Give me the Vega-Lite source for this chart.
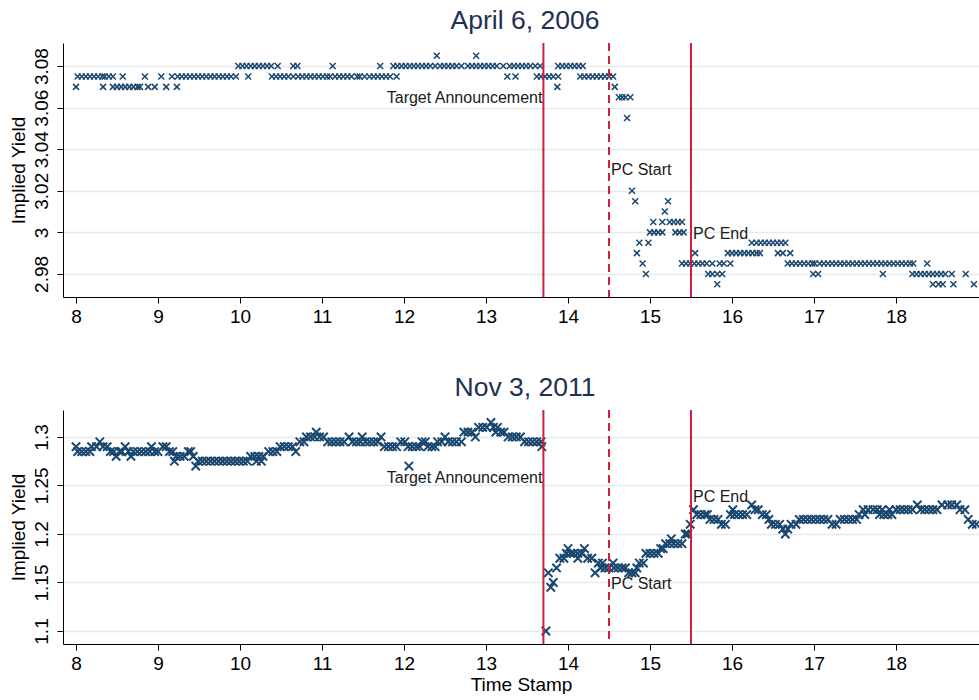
{
"$schema": "https://vega.github.io/schema/vega-lite/v6.json",
"padding": {"left": 9, "top": 7, "right": 0, "bottom": 0},
"spacing": 113,
"bounds": "flush",
"config": {
 "font": "Liberation Sans",
 "view": {"stroke": null},
 "axis": {"labelFont": "Liberation Sans", "labelFontSize": 19, "labelColor": "#000", "titleFont": "Liberation Sans", "titleFontSize": 19, "titleFontWeight": "normal", "titleColor": "#000", "domainColor": "#000", "tickColor": "#000", "tickSize": 6, "domainWidth": 1, "tickWidth": 1},
 "title": {"font": "Liberation Sans", "fontSize": 26.5, "fontWeight": "normal", "color": "#1e3056", "anchor": "middle", "frame": "group", "offset": 8, "baseline": "alphabetic", "dx": 4}
},
"datasets": {
 "rules": [{"t":13.7,"d":"s"},{"t":14.5,"d":"d"},{"t":15.5,"d":"s"}],
 "la": [{"t":13.7,"y":3.0622,"label":"Target Announcement","h":"r"},{"t":14.5,"y":3.0274,"label":"PC Start","h":"l"},{"t":15.5,"y":2.9968,"label":"PC End","h":"l"}],
 "lb": [{"t":13.7,"y":1.2526,"label":"Target Announcement","h":"r"},{"t":14.5,"y":1.1433,"label":"PC Start","h":"l"},{"t":15.5,"y":1.233,"label":"PC End","h":"l"}],
 "a": [
  {"t":8.02,"y":3.075},{"t":8.07,"y":3.075},{"t":8.12,"y":3.075},{"t":8.17,"y":3.075},{"t":8.22,"y":3.075},{"t":8.27,"y":3.075},{"t":8.32,"y":3.075},{"t":8.35,"y":3.075},{"t":8.40,"y":3.075},{"t":8.45,"y":3.075},{"t":8.57,"y":3.075},{"t":8.84,"y":3.075},{"t":9.04,"y":3.075},{"t":9.17,"y":3.075},
  {"t":9.24,"y":3.075},{"t":9.29,"y":3.075},{"t":9.34,"y":3.075},{"t":9.39,"y":3.075},{"t":9.44,"y":3.075},{"t":9.49,"y":3.075},{"t":9.54,"y":3.075},{"t":9.59,"y":3.075},{"t":9.64,"y":3.075},{"t":9.69,"y":3.075},{"t":9.74,"y":3.075},{"t":9.79,"y":3.075},{"t":9.84,"y":3.075},{"t":9.89,"y":3.075},{"t":9.95,"y":3.075},{"t":10.10,"y":3.075},
  {"t":10.39,"y":3.075},{"t":10.44,"y":3.075},{"t":10.49,"y":3.075},{"t":10.54,"y":3.075},{"t":10.59,"y":3.075},{"t":10.65,"y":3.075},{"t":10.71,"y":3.075},{"t":10.76,"y":3.075},{"t":10.81,"y":3.075},{"t":10.86,"y":3.075},{"t":10.91,"y":3.075},{"t":10.96,"y":3.075},{"t":11.01,"y":3.075},{"t":11.06,"y":3.075},{"t":11.10,"y":3.075},{"t":11.16,"y":3.075},{"t":11.21,"y":3.075},{"t":11.26,"y":3.075},{"t":11.31,"y":3.075},{"t":11.36,"y":3.075},{"t":11.43,"y":3.075},{"t":11.46,"y":3.075},{"t":11.52,"y":3.075},{"t":11.58,"y":3.075},{"t":11.63,"y":3.075},{"t":11.68,"y":3.075},{"t":11.73,"y":3.075},{"t":11.78,"y":3.075},{"t":11.83,"y":3.075},{"t":11.91,"y":3.075},
  {"t":13.26,"y":3.075},{"t":13.36,"y":3.075},{"t":13.62,"y":3.075},{"t":13.67,"y":3.075},{"t":13.72,"y":3.075},{"t":13.77,"y":3.075},{"t":13.82,"y":3.075},{"t":13.88,"y":3.075},{"t":14.15,"y":3.075},{"t":14.20,"y":3.075},{"t":14.25,"y":3.075},{"t":14.30,"y":3.075},{"t":14.35,"y":3.075},{"t":14.40,"y":3.075},{"t":14.45,"y":3.075},{"t":14.50,"y":3.075},{"t":14.55,"y":3.075},
  {"t":8.0,"y":3.07},{"t":8.33,"y":3.07},{"t":8.45,"y":3.07},{"t":8.50,"y":3.07},{"t":8.55,"y":3.07},{"t":8.60,"y":3.07},{"t":8.65,"y":3.07},{"t":8.70,"y":3.07},{"t":8.75,"y":3.07},{"t":8.78,"y":3.07},{"t":8.88,"y":3.07},{"t":8.96,"y":3.07},{"t":9.10,"y":3.07},{"t":9.23,"y":3.07},{"t":13.87,"y":3.07},{"t":14.57,"y":3.07},
  {"t":9.98,"y":3.08},{"t":10.03,"y":3.08},{"t":10.08,"y":3.08},{"t":10.13,"y":3.08},{"t":10.18,"y":3.08},{"t":10.23,"y":3.08},{"t":10.28,"y":3.08},{"t":10.33,"y":3.08},{"t":10.38,"y":3.08},{"t":10.46,"y":3.08},{"t":10.65,"y":3.08},{"t":10.70,"y":3.08},{"t":11.13,"y":3.08},{"t":11.71,"y":3.08},
  {"t":11.87,"y":3.08},{"t":11.92,"y":3.08},{"t":11.97,"y":3.08},{"t":12.02,"y":3.08},{"t":12.07,"y":3.08},{"t":12.12,"y":3.08},{"t":12.17,"y":3.08},{"t":12.22,"y":3.08},{"t":12.27,"y":3.08},{"t":12.32,"y":3.08},{"t":12.38,"y":3.08},{"t":12.44,"y":3.08},{"t":12.49,"y":3.08},{"t":12.54,"y":3.08},{"t":12.59,"y":3.08},{"t":12.64,"y":3.08},{"t":12.70,"y":3.08},
  {"t":12.78,"y":3.08},{"t":12.83,"y":3.08},{"t":12.88,"y":3.08},{"t":12.93,"y":3.08},{"t":12.98,"y":3.08},{"t":13.03,"y":3.08},{"t":13.08,"y":3.08},{"t":13.13,"y":3.08},{"t":13.21,"y":3.08},{"t":13.29,"y":3.08},{"t":13.34,"y":3.08},{"t":13.39,"y":3.08},{"t":13.44,"y":3.08},{"t":13.49,"y":3.08},{"t":13.54,"y":3.08},{"t":13.60,"y":3.08},{"t":13.66,"y":3.08},
  {"t":13.88,"y":3.08},{"t":13.93,"y":3.08},{"t":13.98,"y":3.08},{"t":14.03,"y":3.08},{"t":14.08,"y":3.08},{"t":14.13,"y":3.08},{"t":14.18,"y":3.08},
  {"t":12.40,"y":3.085},{"t":12.88,"y":3.085},
  {"t":14.62,"y":3.065},{"t":14.66,"y":3.065},{"t":14.70,"y":3.065},{"t":14.76,"y":3.065},{"t":14.72,"y":3.055},
  {"t":14.78,"y":3.02},{"t":14.82,"y":3.015},{"t":14.84,"y":2.99},{"t":14.87,"y":2.995},{"t":14.91,"y":2.985},{"t":14.95,"y":2.98},{"t":14.98,"y":2.995},
  {"t":15.0,"y":3.0},{"t":15.05,"y":3.0},{"t":15.1,"y":3.0},{"t":15.15,"y":3.0},{"t":15.04,"y":3.005},{"t":15.15,"y":3.005},{"t":15.18,"y":3.01},{"t":15.22,"y":3.015},
  {"t":15.24,"y":3.005},{"t":15.29,"y":3.005},{"t":15.34,"y":3.005},{"t":15.39,"y":3.005},{"t":15.31,"y":3.0},{"t":15.36,"y":3.0},{"t":15.41,"y":3.0},
  {"t":15.39,"y":2.985},{"t":15.44,"y":2.985},{"t":15.49,"y":2.985},{"t":15.54,"y":2.985},{"t":15.59,"y":2.985},{"t":15.64,"y":2.985},{"t":15.69,"y":2.985},{"t":15.76,"y":2.985},{"t":15.55,"y":2.99},
  {"t":15.71,"y":2.98},{"t":15.76,"y":2.98},{"t":15.82,"y":2.98},{"t":15.88,"y":2.98},{"t":15.82,"y":2.975},
  {"t":15.85,"y":2.985},{"t":15.90,"y":2.985},{"t":15.98,"y":2.985},
  {"t":15.95,"y":2.99},{"t":16.0,"y":2.99},{"t":16.05,"y":2.99},{"t":16.10,"y":2.99},{"t":16.15,"y":2.99},{"t":16.20,"y":2.99},{"t":16.25,"y":2.99},{"t":16.30,"y":2.99},{"t":16.34,"y":2.99},
  {"t":16.24,"y":2.995},{"t":16.30,"y":2.995},{"t":16.35,"y":2.995},{"t":16.40,"y":2.995},{"t":16.45,"y":2.995},{"t":16.50,"y":2.995},{"t":16.55,"y":2.995},{"t":16.60,"y":2.995},{"t":16.65,"y":2.995},
  {"t":16.56,"y":2.99},{"t":16.62,"y":2.99},{"t":16.71,"y":2.99},
  {"t":16.68,"y":2.985},{"t":16.73,"y":2.985},{"t":16.78,"y":2.985},{"t":16.83,"y":2.985},{"t":16.88,"y":2.985},{"t":16.93,"y":2.985},{"t":16.98,"y":2.985},{"t":17.01,"y":2.985},
  {"t":16.99,"y":2.98},{"t":17.05,"y":2.98},
  {"t":17.07,"y":2.985},{"t":17.12,"y":2.985},{"t":17.17,"y":2.985},{"t":17.22,"y":2.985},{"t":17.27,"y":2.985},{"t":17.32,"y":2.985},{"t":17.37,"y":2.985},{"t":17.42,"y":2.985},{"t":17.47,"y":2.985},{"t":17.52,"y":2.985},{"t":17.57,"y":2.985},{"t":17.62,"y":2.985},{"t":17.67,"y":2.985},{"t":17.72,"y":2.985},{"t":17.77,"y":2.985},{"t":17.82,"y":2.985},{"t":17.87,"y":2.985},{"t":17.92,"y":2.985},{"t":17.97,"y":2.985},{"t":18.02,"y":2.985},{"t":18.07,"y":2.985},{"t":18.12,"y":2.985},{"t":18.17,"y":2.985},{"t":18.21,"y":2.985},
  {"t":17.84,"y":2.98},{"t":18.38,"y":2.985},
  {"t":18.20,"y":2.98},{"t":18.25,"y":2.98},{"t":18.30,"y":2.98},{"t":18.35,"y":2.98},{"t":18.40,"y":2.98},{"t":18.45,"y":2.98},{"t":18.50,"y":2.98},{"t":18.55,"y":2.98},{"t":18.60,"y":2.98},{"t":18.68,"y":2.98},
  {"t":18.45,"y":2.975},{"t":18.52,"y":2.975},{"t":18.57,"y":2.975},{"t":18.70,"y":2.975},{"t":18.95,"y":2.975},{"t":18.85,"y":2.98}
 ],
 "b": [
  {"t":8.0,"y":1.29},{"t":8.02,"y":1.285},{"t":8.07,"y":1.285},{"t":8.12,"y":1.285},{"t":8.17,"y":1.285},{"t":8.19,"y":1.29},{"t":8.25,"y":1.29},{"t":8.29,"y":1.295},{"t":8.33,"y":1.29},{"t":8.38,"y":1.29},{"t":8.42,"y":1.285},{"t":8.46,"y":1.285},{"t":8.49,"y":1.28},{"t":8.53,"y":1.285},{"t":8.56,"y":1.285},{"t":8.60,"y":1.29},{"t":8.64,"y":1.285},{"t":8.67,"y":1.28},
  {"t":8.70,"y":1.285},{"t":8.75,"y":1.285},{"t":8.80,"y":1.285},{"t":8.85,"y":1.285},{"t":8.90,"y":1.285},{"t":8.92,"y":1.29},{"t":8.96,"y":1.285},{"t":9.0,"y":1.285},{"t":9.06,"y":1.29},{"t":9.10,"y":1.29},{"t":9.14,"y":1.285},{"t":9.18,"y":1.285},{"t":9.20,"y":1.275},
  {"t":9.22,"y":1.28},{"t":9.27,"y":1.28},{"t":9.32,"y":1.28},{"t":9.37,"y":1.285},{"t":9.40,"y":1.285},{"t":9.43,"y":1.28},{"t":9.46,"y":1.27},
  {"t":9.49,"y":1.275},{"t":9.54,"y":1.275},{"t":9.59,"y":1.275},{"t":9.64,"y":1.275},{"t":9.69,"y":1.275},{"t":9.74,"y":1.275},{"t":9.79,"y":1.275},{"t":9.84,"y":1.275},{"t":9.89,"y":1.275},{"t":9.94,"y":1.275},{"t":9.99,"y":1.275},{"t":10.04,"y":1.275},{"t":10.09,"y":1.275},
  {"t":10.13,"y":1.28},{"t":10.18,"y":1.28},{"t":10.23,"y":1.28},{"t":10.28,"y":1.28},{"t":10.20,"y":1.275},{"t":10.26,"y":1.275},
  {"t":10.35,"y":1.285},{"t":10.40,"y":1.285},{"t":10.45,"y":1.285},{"t":10.49,"y":1.29},{"t":10.54,"y":1.29},{"t":10.59,"y":1.29},{"t":10.64,"y":1.29},{"t":10.68,"y":1.285},{"t":10.73,"y":1.295},{"t":10.78,"y":1.295},
  {"t":10.81,"y":1.3},{"t":10.86,"y":1.3},{"t":10.91,"y":1.3},{"t":10.97,"y":1.3},{"t":11.02,"y":1.3},{"t":10.93,"y":1.305},
  {"t":11.07,"y":1.295},{"t":11.12,"y":1.295},{"t":11.17,"y":1.295},{"t":11.22,"y":1.295},{"t":11.27,"y":1.295},{"t":11.37,"y":1.295},{"t":11.42,"y":1.295},{"t":11.47,"y":1.295},{"t":11.53,"y":1.295},{"t":11.58,"y":1.295},{"t":11.63,"y":1.295},{"t":11.68,"y":1.295},
  {"t":11.33,"y":1.3},{"t":11.49,"y":1.3},{"t":11.72,"y":1.3},
  {"t":11.76,"y":1.29},{"t":11.81,"y":1.29},{"t":11.86,"y":1.29},{"t":11.91,"y":1.29},{"t":11.96,"y":1.295},{"t":12.01,"y":1.295},{"t":12.05,"y":1.29},{"t":12.10,"y":1.29},{"t":12.15,"y":1.29},{"t":12.19,"y":1.29},{"t":12.06,"y":1.27},
  {"t":12.22,"y":1.295},{"t":12.26,"y":1.295},{"t":12.29,"y":1.29},{"t":12.34,"y":1.29},{"t":12.38,"y":1.29},{"t":12.41,"y":1.295},{"t":12.46,"y":1.295},{"t":12.50,"y":1.3},{"t":12.54,"y":1.295},{"t":12.59,"y":1.295},{"t":12.64,"y":1.295},{"t":12.70,"y":1.295},
  {"t":12.73,"y":1.305},{"t":12.78,"y":1.305},{"t":12.83,"y":1.305},{"t":12.87,"y":1.3},{"t":12.91,"y":1.31},{"t":12.96,"y":1.31},{"t":13.01,"y":1.31},{"t":13.06,"y":1.315},{"t":13.09,"y":1.31},{"t":13.14,"y":1.31},{"t":13.12,"y":1.305},{"t":13.18,"y":1.305},{"t":13.22,"y":1.305},
  {"t":13.27,"y":1.3},{"t":13.32,"y":1.3},{"t":13.37,"y":1.3},{"t":13.42,"y":1.3},{"t":13.47,"y":1.295},{"t":13.52,"y":1.295},{"t":13.57,"y":1.295},{"t":13.62,"y":1.295},{"t":13.67,"y":1.295},{"t":13.68,"y":1.29},
  {"t":13.73,"y":1.1},{"t":13.76,"y":1.16},{"t":13.79,"y":1.145},{"t":13.82,"y":1.15},{"t":13.86,"y":1.165},{"t":13.90,"y":1.175},{"t":13.95,"y":1.175},{"t":13.98,"y":1.18},{"t":14.03,"y":1.18},{"t":14.0,"y":1.185},{"t":14.2,"y":1.185},
  {"t":14.07,"y":1.18},{"t":14.12,"y":1.18},{"t":14.17,"y":1.18},{"t":14.12,"y":1.175},{"t":14.24,"y":1.175},{"t":14.29,"y":1.175},{"t":14.37,"y":1.17},{"t":14.42,"y":1.17},{"t":14.33,"y":1.16},
  {"t":14.40,"y":1.165},{"t":14.45,"y":1.165},{"t":14.50,"y":1.165},{"t":14.56,"y":1.165},{"t":14.61,"y":1.165},{"t":14.55,"y":1.17},{"t":14.66,"y":1.165},{"t":14.70,"y":1.165},
  {"t":14.74,"y":1.16},{"t":14.78,"y":1.16},{"t":14.82,"y":1.16},{"t":14.84,"y":1.165},{"t":14.87,"y":1.17},{"t":14.92,"y":1.17},
  {"t":14.95,"y":1.18},{"t":15.0,"y":1.18},{"t":15.05,"y":1.18},{"t":15.10,"y":1.18},{"t":15.13,"y":1.185},{"t":15.16,"y":1.185},
  {"t":15.19,"y":1.19},{"t":15.24,"y":1.19},{"t":15.29,"y":1.19},{"t":15.34,"y":1.19},{"t":15.39,"y":1.19},{"t":15.26,"y":1.195},{"t":15.43,"y":1.2},{"t":15.46,"y":1.2},{"t":15.49,"y":1.21},{"t":15.53,"y":1.225},
  {"t":15.57,"y":1.22},{"t":15.62,"y":1.22},{"t":15.67,"y":1.22},{"t":15.70,"y":1.22},{"t":15.73,"y":1.215},{"t":15.78,"y":1.215},{"t":15.83,"y":1.215},{"t":15.87,"y":1.21},{"t":15.92,"y":1.21},
  {"t":15.98,"y":1.22},{"t":16.03,"y":1.22},{"t":16.08,"y":1.22},{"t":16.13,"y":1.22},{"t":16.18,"y":1.22},{"t":16.01,"y":1.225},{"t":16.24,"y":1.23},{"t":16.28,"y":1.225},{"t":16.32,"y":1.225},
  {"t":16.37,"y":1.22},{"t":16.42,"y":1.22},{"t":16.45,"y":1.215},{"t":16.48,"y":1.21},{"t":16.53,"y":1.21},{"t":16.58,"y":1.21},{"t":16.62,"y":1.205},{"t":16.68,"y":1.205},{"t":16.65,"y":1.2},
  {"t":16.72,"y":1.21},{"t":16.78,"y":1.21},
  {"t":16.82,"y":1.215},{"t":16.87,"y":1.215},{"t":16.92,"y":1.215},{"t":16.97,"y":1.215},{"t":17.02,"y":1.215},{"t":17.07,"y":1.215},{"t":17.12,"y":1.215},{"t":17.17,"y":1.215},
  {"t":17.22,"y":1.21},{"t":17.27,"y":1.21},
  {"t":17.32,"y":1.215},{"t":17.37,"y":1.215},{"t":17.42,"y":1.215},{"t":17.47,"y":1.215},{"t":17.52,"y":1.215},
  {"t":17.55,"y":1.22},{"t":17.62,"y":1.22},{"t":17.60,"y":1.225},{"t":17.66,"y":1.225},{"t":17.72,"y":1.225},{"t":17.77,"y":1.225},
  {"t":17.80,"y":1.22},{"t":17.85,"y":1.22},{"t":17.90,"y":1.22},{"t":17.95,"y":1.22},{"t":17.83,"y":1.225},{"t":17.92,"y":1.225},
  {"t":18.0,"y":1.225},{"t":18.05,"y":1.225},{"t":18.10,"y":1.225},{"t":18.15,"y":1.225},{"t":18.20,"y":1.225},{"t":18.30,"y":1.225},{"t":18.35,"y":1.225},{"t":18.40,"y":1.225},{"t":18.45,"y":1.225},{"t":18.50,"y":1.225},
  {"t":18.26,"y":1.23},{"t":18.56,"y":1.23},{"t":18.63,"y":1.23},{"t":18.68,"y":1.23},{"t":18.74,"y":1.23},{"t":18.78,"y":1.225},{"t":18.84,"y":1.225},{"t":18.88,"y":1.215},{"t":18.93,"y":1.21},{"t":18.98,"y":1.21}
 ]
},
"vconcat": [
 {
  "width": 916, "height": 254,
  "title": {"text": "April 6, 2006"},
  "layer": [
   {"data": {"name": "a"},
    "mark": {"type": "point", "shape": "M-1,-1L1,1M-1,1L1,-1", "filled": false, "stroke": "#1a476f", "strokeWidth": 1.5, "size": 36, "opacity": 1},
    "encoding": {
     "x": {"field": "t", "type": "quantitative", "scale": {"domain": [7.8415, 19.012], "nice": false, "zero": false},
      "axis": {"values": [8,9,10,11,12,13,14,15,16,17,18], "title": null, "grid": false, "labelPadding": 4, "labelFlush": false, "format": "~g"}},
     "y": {"field": "y", "type": "quantitative", "scale": {"domain": [2.9689, 3.0911], "nice": false, "zero": false},
      "axis": {"values": [2.98,3,3.02,3.04,3.06,3.08], "format": "~g", "title": "Implied Yield", "grid": true, "gridColor": "#e3ebef", "gridWidth": 1.5,
       "labelAngle": -90, "labelAlign": "center", "labelBaseline": "bottom", "labelPadding": 6, "labelOverlap": false, "labelFlush": false,
       "titleX": -45, "titleY": 127, "titleAngle": -90, "titleAlign": "center", "titleBaseline": "middle"}}
    }},
   {"data": {"name": "rules"},
    "mark": {"type": "rule", "color": "#d01f3c", "strokeWidth": 2},
    "encoding": {"x": {"field": "t", "type": "quantitative"},
     "strokeDash": {"field": "d", "type": "nominal", "scale": {"domain": ["d","s"], "range": [[8,5],[1,0]]}, "legend": null}}},
   {"data": {"name": "la"}, "transform": [{"filter": {"field": "h", "equal": "r"}}],
    "mark": {"type": "text", "align": "right", "baseline": "alphabetic", "dx": -1, "fontSize": 16, "color": "#1a1a1a", "font": "Liberation Sans"},
    "encoding": {"x": {"field": "t", "type": "quantitative"}, "y": {"field": "y", "type": "quantitative"}, "text": {"field": "label"}}},
   {"data": {"name": "la"}, "transform": [{"filter": {"field": "h", "equal": "l"}}],
    "mark": {"type": "text", "align": "left", "baseline": "alphabetic", "dx": 2, "fontSize": 16, "color": "#1a1a1a", "font": "Liberation Sans"},
    "encoding": {"x": {"field": "t", "type": "quantitative"}, "y": {"field": "y", "type": "quantitative"}, "text": {"field": "label"}}}
  ]
 },
 {
  "width": 916, "height": 234,
  "title": {"text": "Nov 3, 2011"},
  "layer": [
   {"data": {"name": "b"},
    "mark": {"type": "point", "shape": "M-1,-1L1,1M-1,1L1,-1", "filled": false, "stroke": "#1a476f", "strokeWidth": 2, "size": 70, "opacity": 1},
    "encoding": {
     "x": {"field": "t", "type": "quantitative", "scale": {"domain": [7.8415, 19.012], "nice": false, "zero": false},
      "axis": {"values": [8,9,10,11,12,13,14,15,16,17,18], "title": "Time Stamp", "titlePadding": 2, "grid": false, "labelPadding": 4, "labelFlush": false, "format": "~g"}},
     "y": {"field": "y", "type": "quantitative", "scale": {"domain": [1.0866, 1.3278], "nice": false, "zero": false},
      "axis": {"values": [1.1,1.15,1.2,1.25,1.3], "format": "~g", "title": "Implied Yield", "grid": true, "gridColor": "#e3ebef", "gridWidth": 1.5,
       "labelAngle": -90, "labelAlign": "center", "labelBaseline": "bottom", "labelPadding": 6, "labelOverlap": false, "labelFlush": false,
       "titleX": -45, "titleY": 117, "titleAngle": -90, "titleAlign": "center", "titleBaseline": "middle"}}
    }},
   {"data": {"name": "rules"},
    "mark": {"type": "rule", "color": "#d01f3c", "strokeWidth": 2},
    "encoding": {"x": {"field": "t", "type": "quantitative"},
     "strokeDash": {"field": "d", "type": "nominal", "scale": {"domain": ["d","s"], "range": [[8,5],[1,0]]}, "legend": null}}},
   {"data": {"name": "lb"}, "transform": [{"filter": {"field": "h", "equal": "r"}}],
    "mark": {"type": "text", "align": "right", "baseline": "alphabetic", "dx": -1, "fontSize": 16, "color": "#1a1a1a", "font": "Liberation Sans"},
    "encoding": {"x": {"field": "t", "type": "quantitative"}, "y": {"field": "y", "type": "quantitative"}, "text": {"field": "label"}}},
   {"data": {"name": "lb"}, "transform": [{"filter": {"field": "h", "equal": "l"}}],
    "mark": {"type": "text", "align": "left", "baseline": "alphabetic", "dx": 2, "fontSize": 16, "color": "#1a1a1a", "font": "Liberation Sans"},
    "encoding": {"x": {"field": "t", "type": "quantitative"}, "y": {"field": "y", "type": "quantitative"}, "text": {"field": "label"}}}
  ]
 }
]
}
